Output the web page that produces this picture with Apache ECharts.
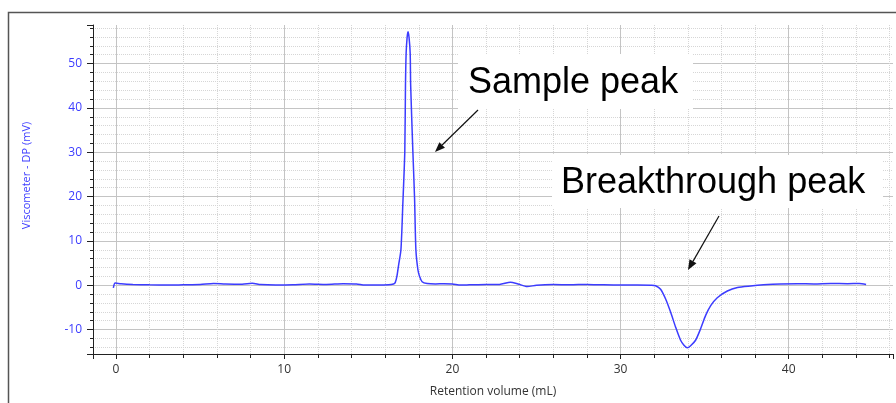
<!DOCTYPE html>
<html><head><meta charset="utf-8">
<script src="https://cdn.jsdelivr.net/npm/echarts@6/dist/echarts.min.js"></script>
<style>html,body{margin:0;padding:0;background:#fff;overflow:hidden;width:100%;height:100%}#c{position:absolute;left:0;top:0;width:896px;height:403px}</style>
</head><body><div id="c"></div>
<script>
// Retention volume (mL)
const retention = [
  -0.16, -0.05, 0.3, 1, 2, 3, 4, 5, 5.8, 6.5, 7.5, 8.1, 8.6, 9.5, 10.5, 11.5, 12.5, 13.5, 14.3, 14.8,
  15.5, 16.2, 16.5, 16.6, 16.7, 16.8, 16.94, 17.05, 17.17, 17.21, 17.25, 17.31, 17.36, 17.42, 17.49, 17.52, 17.65,
  17.75, 17.83, 17.95, 18.05, 18.2, 18.5, 19, 19.5, 20, 20.5, 21, 22, 22.8, 23.45, 23.9, 24.45, 25,
  26, 27, 28, 29, 30, 31, 31.8, 32.08, 32.38, 32.68, 32.98, 33.27, 33.57, 33.77, 33.97, 34.15, 34.46, 34.76,
  35.06, 35.36, 35.75, 36.35, 36.95, 37.74, 38.5, 39.5, 40.5, 41.5, 42.5, 43.5, 44.2, 44.6
];
// Viscometer - DP (mV)
const signal = [
  -0.6, 0.5, 0.35, 0.2, 0.1, 0.05, 0.1, 0.15, 0.4, 0.3, 0.25, 0.45, 0.15, 0.05, 0.1, 0.3, 0.2, 0.35, 0.3, 0.05,
  0.05, 0.1, 0.3, 0.6, 2, 4.5, 8, 18, 30.2, 45, 52.4, 56, 57.2, 56, 52.4, 45, 30.2,
  19.8, 8, 3.5, 2, 0.8, 0.4, 0.3, 0.35, 0.3, 0.05, 0.1, 0.2, 0.2, 0.7, 0.3, -0.3, 0.0,
  0.15, 0.1, 0.2, 0.1, 0.05, 0.05, 0.0, -0.1, -0.9, -3.1, -6.1, -9.4, -12.4, -13.5, -14.1, -13.7, -12.4, -9.8,
  -6.8, -4.6, -2.8, -1.3, -0.5, -0.15, 0.1, 0.3, 0.35, 0.3, 0.4, 0.35, 0.4, 0.2
];
const xTickLabels = [0, 10, 20, 30, 40];
const yTickLabels = [-10, 0, 10, 20, 30, 40, 50];
const annotations = ['Sample peak', 'Breakthrough peak'];

const points = retention.map((x, i) => [x, signal[i]]);

function arrow(x1, y1, x2, y2) {
  const a = Math.atan2(y2 - y1, x2 - x1), L = 10, W = 4;
  const c = Math.cos(a), s = Math.sin(a);
  const bx = x2 - L * c, by = y2 - L * s;
  return [
    { type: 'line', shape: { x1: x1, y1: y1, x2: bx, y2: by }, style: { stroke: '#111', lineWidth: 1.2 }, z: 10 },
    { type: 'polygon', shape: { points: [[x2, y2], [bx - W * s, by + W * c], [bx + W * s, by - W * c]] }, style: { fill: '#111' }, z: 10 }
  ];
}

const blue = '#3c3cff';
const chart = echarts.init(document.getElementById('c'), null, { renderer: 'canvas', width: 896, height: 403 });
chart.setOption({
  animation: false,
  backgroundColor: '#fff',
  grid: { left: 93, top: 25, right: 3, bottom: 44, containLabel: false },
  xAxis: {
    type: 'value', min: -1.37, max: 46.2,
    name: 'Retention volume (mL)', nameLocation: 'middle', nameGap: 32,
    nameTextStyle: { color: '#333', fontSize: 12, fontFamily: 'Open Sans' },
    axisLine: { show: true, onZero: false, lineStyle: { color: '#222', width: 1 } },
    axisTick: { show: true, length: 5, lineStyle: { color: '#222' } },
    minorTick: { show: true, splitNumber: 5, length: 4, lineStyle: { color: '#222' } },
    axisLabel: { customValues: xTickLabels, color: '#333', fontSize: 12, fontFamily: 'Open Sans', margin: 10 },
    splitLine: { show: true, showMinLine: false, showMaxLine: false, lineStyle: { color: '#c4c4c4', width: 1 } },
    minorSplitLine: { show: true, lineStyle: { color: '#d6d6d6', type: 'dotted', width: 1 } }
  },
  yAxis: {
    type: 'value', min: -15.5, max: 58.7,
    name: 'Viscometer - DP (mV)', nameLocation: 'middle', nameGap: 61,
    nameTextStyle: { color: blue, fontSize: 11, fontFamily: 'Open Sans', padding: [0, 0, 0, 28] },
    axisLine: { show: true, onZero: false, lineStyle: { color: '#222', width: 1 } },
    axisTick: { show: true, length: 6, lineStyle: { color: '#222' } },
    minorTick: { show: true, splitNumber: 5, length: 3, lineStyle: { color: '#222' } },
    axisLabel: { customValues: yTickLabels, color: blue, fontSize: 12, fontFamily: 'Open Sans', margin: 11 },
    splitLine: { show: true, showMinLine: false, showMaxLine: false, lineStyle: { color: '#c4c4c4', width: 1 } },
    minorSplitLine: { show: true, lineStyle: { color: '#d6d6d6', type: 'dotted', width: 1 } }
  },
  series: [{
    type: 'line', data: points, showSymbol: false, smooth: 0.25,
    lineStyle: { color: blue, width: 1.5 }, z: 5
  }],
  graphic: [
    { type: 'rect', shape: { x: 8.5, y: 12.5, width: 1000, height: 1000 }, style: { fill: null, stroke: '#555', lineWidth: 1.5 }, z: 20, silent: true },
    { type: 'rect', shape: { x: 458, y: 54, width: 235, height: 55 }, style: { fill: '#fff' }, z: 8 },
    { type: 'rect', shape: { x: 552, y: 155, width: 331, height: 53 }, style: { fill: '#fff' }, z: 8 },
    { type: 'text', x: 468, y: 83, style: { text: annotations[0], font: '36px "Liberation Sans", Arial, sans-serif', fill: '#000', verticalAlign: 'middle' }, z: 9 },
    { type: 'text', x: 561, y: 183, style: { text: annotations[1], font: '36px "Liberation Sans", Arial, sans-serif', fill: '#000', verticalAlign: 'middle' }, z: 9 }
  ].concat(arrow(478, 110, 435, 152), arrow(719, 216, 688, 270))
});
</script></body></html>
